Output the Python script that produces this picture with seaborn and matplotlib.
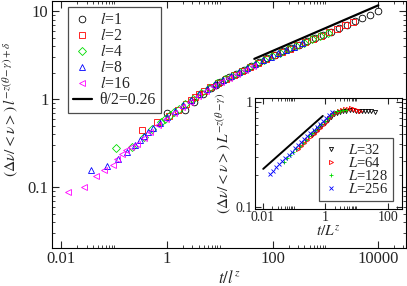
import numpy as np
import pandas as pd
import matplotlib
matplotlib.use('Agg')
import matplotlib.pyplot as plt
import seaborn as sns
from matplotlib.ticker import FixedLocator, FuncFormatter, LogLocator, NullFormatter

# ---------------- main panel data (scaled collapse) ----------------
l1_x = [1, 2.2, 3.31, 4.79, 6.92, 8.51, 10.2, 12.3, 15.1, 20.0, 28.2, 39.8, 56.2, 79.4, 112, 158,
        224, 316, 447, 631, 891, 1259, 1778, 2512, 3548, 5012, 7079, 10000]
l1_y = [0.705, 0.76, 0.933, 1.138, 1.330, 1.466, 1.589, 1.679, 1.786, 1.941, 2.153, 2.388, 2.649, 2.944,
        3.214, 3.508, 3.824, 4.169, 4.545, 4.955, 5.401, 5.895, 6.442, 7.031, 7.674, 8.385, 9.162, 10.0]

l2_x = [0.331, 0.661, 1.096, 1.585, 2.291, 2.818, 3.388, 4.074, 5.012, 6.607, 9.333, 13.18, 18.62, 26.3,
        37.15, 52.48, 74.13, 104.7, 147.9, 208.9, 295.1, 416.9, 588.8, 831.8, 1175, 1660, 2344, 3311]
l2_y = [0.4467, 0.5470, 0.6486, 0.7621, 0.8954, 0.9772, 1.0593, 1.1455, 1.2388, 1.3709, 1.5453, 1.7140,
        1.9011, 2.1086, 2.3388, 2.5942, 2.8840, 3.1550, 3.4475, 3.7584, 4.0973, 4.4668, 4.8697, 5.3088,
        5.7943, 6.3241, 6.9024, 7.5509]

l4_x = [0.1096, 0.2188, 0.3631, 0.5248, 0.7586, 0.9333, 1.122, 1.349, 1.660, 2.188, 3.090, 4.365, 6.166,
        8.710, 12.30, 17.38, 24.55, 34.67, 48.98, 69.18, 97.72, 138.0, 195.0, 275.4, 389.0, 549.5, 776.2, 1096]
l4_y = [0.2773, 0.2884, 0.3737, 0.4560, 0.5458, 0.6026, 0.6561, 0.7112, 0.7780, 0.8770, 1.0177, 1.1803,
        1.3366, 1.5136, 1.6788, 1.8621, 2.0654, 2.2909, 2.5410, 2.8184, 3.1046, 3.3884, 3.6939, 4.0272,
        4.3904, 4.7863, 5.2176, 5.6885]

l8_x = [0.0363, 0.0724, 0.1202, 0.1738, 0.2512, 0.3090, 0.3715, 0.4467, 0.5495, 0.7244, 1.023, 1.445,
        2.042, 2.884, 4.074, 5.754, 8.128, 11.48, 16.22, 22.91, 32.36, 45.71, 64.57, 91.20, 128.8, 182.0,
        257.0, 363.1]
l8_y = [0.1567, 0.1738, 0.2089, 0.2512, 0.3038, 0.3412, 0.3784, 0.4198, 0.4667, 0.5333, 0.6295, 0.7328,
        0.8511, 0.9886, 1.1455, 1.3032, 1.4757, 1.6444, 1.8239, 2.0230, 2.2439, 2.4889, 2.7606, 3.0479,
        3.3266, 3.6308, 3.9582, 4.3152]

l16_x = [0.01321, 0.02729, 0.04539, 0.06516, 0.09397, 0.1151, 0.1393, 0.1679, 0.2089, 0.2754, 0.3631,
         0.4786, 0.6761, 0.9550, 1.349, 1.905, 2.692, 3.802, 5.370, 7.586, 10.72, 15.14, 21.38, 30.20, 42.66]
l16_y = [0.0891, 0.100, 0.1355, 0.1574, 0.1791, 0.2080, 0.2388, 0.2655, 0.2891, 0.3126, 0.3651, 0.4266,
         0.5047, 0.5957, 0.6950, 0.8072, 0.9376, 1.0889, 1.2417, 1.4060, 1.5740, 1.7458, 1.9364, 2.1478, 2.3878]

fit_x = [45, 10000]
fit_y = [2.88, 11.7]

# ---------------- inset data ----------------
L256_x = [0.01698, 0.02138, 0.02692, 0.03388, 0.04266, 0.05370, 0.06761, 0.08511, 0.1072, 0.1349, 0.1698,
          0.2138, 0.2692, 0.3388, 0.4266, 0.5370, 0.6761, 0.8511, 1.072, 1.349, 1.698]
L256_y = [0.2065, 0.2218, 0.2388, 0.2564, 0.2748, 0.2944, 0.3155, 0.3381, 0.3622, 0.3882, 0.4159, 0.4457,
          0.4775, 0.5117, 0.5470, 0.5848, 0.6252, 0.6683, 0.7129, 0.7603, 0.7990]

L128_x = [0.04786, 0.06026, 0.07586, 0.09550, 0.1202, 0.1514, 0.1905, 0.2399, 0.3020, 0.3802, 0.4786,
          0.6026, 0.7586, 0.9550, 1.202, 1.514, 1.905, 2.399, 3.020, 3.802, 4.786]
L128_y = [0.2716, 0.2911, 0.3119, 0.3342, 0.3581, 0.3837, 0.4111, 0.4406, 0.4721, 0.5047, 0.5395, 0.5768,
          0.6166, 0.6592, 0.7079, 0.7586, 0.7943, 0.8166, 0.8318, 0.8414, 0.8472]

L64_x = [0.1349, 0.1698, 0.2138, 0.2692, 0.3388, 0.4266, 0.5370, 0.6761, 0.8511, 1.072, 1.349, 1.698,
         2.138, 2.692, 3.388, 4.266, 5.370, 6.761, 8.511, 10.72, 13.49]
L64_y = [0.3540, 0.3793, 0.4064, 0.4355, 0.4667, 0.4989, 0.5333, 0.5702, 0.6095, 0.6531, 0.6998, 0.7499,
         0.7943, 0.8222, 0.8414, 0.855, 0.867, 0.875, 0.867, 0.847, 0.828]

L32_x = [0.3802, 0.4786, 0.6026, 0.7586, 0.9550, 1.202, 1.514, 1.905, 2.399, 3.020, 3.802, 4.786, 6.026,
         7.586, 9.550, 12.02, 15.14, 19.05, 23.99, 30.20, 38.02]
L32_y = [0.4819, 0.5152, 0.5508, 0.5888, 0.6310, 0.6792, 0.7244, 0.7674, 0.7943, 0.8128, 0.8222, 0.8318,
         0.8356, 0.8356, 0.8318, 0.8279, 0.8222, 0.8222, 0.8166, 0.8166, 0.8128]

ins_fit_x = [0.0104, 0.84]
ins_fit_y = [0.231, 0.74]

main_labels = ['$l$=1', '$l$=2', '$l$=4', '$l$=8', '$l$=16']
fit_label = 'θ/2=0.26'
inset_labels = ['$L$=32', '$L$=64', '$L$=128', '$L$=256']

# ---------------- style ----------------
sns.set_style('ticks')
plt.rcParams['font.family'] = ['Liberation Serif', 'DejaVu Serif']
plt.rcParams['mathtext.fontset'] = 'stix'
plt.rcParams['xtick.direction'] = 'in'
plt.rcParams['ytick.direction'] = 'in'
plt.rcParams['xtick.top'] = True
plt.rcParams['ytick.right'] = True
plt.rcParams['axes.linewidth'] = 0.8
plt.rcParams['axes.edgecolor'] = 'black'

BLACK, RED, GREEN, BLUE, MAG = 'black', '#ff0000', '#00dd00', '#0000ff', '#ff00ff'

fig = plt.figure(figsize=(4.07, 2.86), dpi=100)
ax = fig.add_axes([0.1278, 0.1329, 0.8698, 0.8636])

def fmt(v, p):
    return f'{v:g}'

def draw(axx, xs, ys, color, marker, label, ms):
    df = pd.DataFrame({'x': xs, 'y': ys})
    kw = dict(markeredgecolor=color, markeredgewidth=0.6, markersize=ms)
    if marker not in ('+', 'x'):
        kw['markerfacecolor'] = 'none'
    sns.lineplot(data=df, x='x', y='y', ax=axx, estimator=None, sort=False,
                 linestyle='none', marker=marker, label=label, color=color, **kw)

main_series = [(l1_x, l1_y, BLACK, 'o'), (l2_x, l2_y, RED, 's'), (l4_x, l4_y, GREEN, 'D'),
               (l8_x, l8_y, BLUE, '^'), (l16_x, l16_y, MAG, '<')]
sizes = {'o': 4.8, 's': 3.9, 'D': 3.7, '^': 4.4, '<': 4.4}
for (xs, ys, c, m), lab in zip(main_series, main_labels):
    draw(ax, xs, ys, c, m, lab, sizes[m])
sns.lineplot(x=fit_x, y=fit_y, ax=ax, color='black', lw=1.6, label=fit_label, estimator=None, sort=False)

ax.set_xscale('log'); ax.set_yscale('log')
ax.set_xlim(0.00667, 33500)
ax.set_ylim(0.0204, 13.1)
ax.xaxis.set_major_locator(FixedLocator([0.01, 1, 100, 10000]))
ax.xaxis.set_minor_locator(FixedLocator([d * k for d in [0.01, 1, 100, 10000] for k in range(2, 11)]))
ax.xaxis.set_major_formatter(FuncFormatter(fmt))
ax.xaxis.set_minor_formatter(NullFormatter())
ax.yaxis.set_major_locator(FixedLocator([0.1, 1, 10]))
ax.yaxis.set_minor_locator(LogLocator(base=10, subs=np.arange(2, 10), numticks=20))
ax.yaxis.set_major_formatter(FuncFormatter(fmt))
ax.yaxis.set_minor_formatter(NullFormatter())
ax.tick_params(which='major', length=5, width=0.8, labelsize=12, pad=2.5)
ax.tick_params(which='minor', length=2.5, width=0.6)
ax.set_xlabel('$t/l^{z}$', fontsize=12, labelpad=2)
ax.set_ylabel(r'$(\Delta\nu/<\nu>)\,l^{-z(\theta-\gamma)+\delta}$', fontsize=11.2)
ax.yaxis.set_label_coords(-0.087, 0.56)

leg = ax.legend(loc='upper left', bbox_to_anchor=(0.046, 0.9745), borderaxespad=0, fontsize=11.3,
                frameon=True, fancybox=False, framealpha=1, edgecolor='0.3', numpoints=1,
                handlelength=1.2, handletextpad=0.5, labelspacing=0.0, borderpad=0.3)
leg.get_frame().set_linewidth(0.9)

# ---------------- inset ----------------
ins = fig.add_axes([0.6258, 0.2703, 0.3627, 0.386])
ins_series = [(L32_x, L32_y, BLACK, 'v'), (L64_x, L64_y, RED, '>'), (L128_x, L128_y, GREEN, '+'),
              (L256_x, L256_y, BLUE, 'x')]
for (xs, ys, c, m), lab in zip(ins_series, inset_labels):
    draw(ins, xs, ys, c, m, lab, 3.0)
sns.lineplot(x=ins_fit_x, y=ins_fit_y, ax=ins, color='black', lw=1.4, estimator=None, sort=False)
ins.set_xscale('log'); ins.set_yscale('log')
ins.set_xlim(0.00555, 295)
ins.set_ylim(0.0963, 1.09)
ins.xaxis.set_major_locator(FixedLocator([0.01, 1, 100]))
ins.xaxis.set_minor_locator(FixedLocator([d * k for d in [0.01, 1, 100] for k in range(2, 11)]))
ins.xaxis.set_major_formatter(FuncFormatter(fmt))
ins.xaxis.set_minor_formatter(NullFormatter())
ins.yaxis.set_major_locator(FixedLocator([0.1, 1]))
ins.yaxis.set_minor_locator(LogLocator(base=10, subs=np.arange(2, 10), numticks=20))
ins.yaxis.set_major_formatter(FuncFormatter(fmt))
ins.yaxis.set_minor_formatter(NullFormatter())
ins.tick_params(which='major', length=4, width=0.8, labelsize=10, pad=1.5)
ins.tick_params(which='minor', length=2, width=0.6)
ins.set_xlabel('$t/L^{z}$', fontsize=11, labelpad=0)
ins.set_ylabel(r'$(\Delta\nu/<\nu>)\,L^{-z(\theta-\gamma)}$', fontsize=11, labelpad=1)
ileg = ins.legend(loc='upper left', bbox_to_anchor=(0.436, 0.638), borderaxespad=0, fontsize=10.5,
                  frameon=True, fancybox=False, framealpha=1, edgecolor='0.3', numpoints=1,
                  handlelength=1.0, handletextpad=0.7, labelspacing=-0.05, borderpad=0.3)
ileg.get_frame().set_linewidth(0.9)

fig.savefig('out.png', dpi=100)
